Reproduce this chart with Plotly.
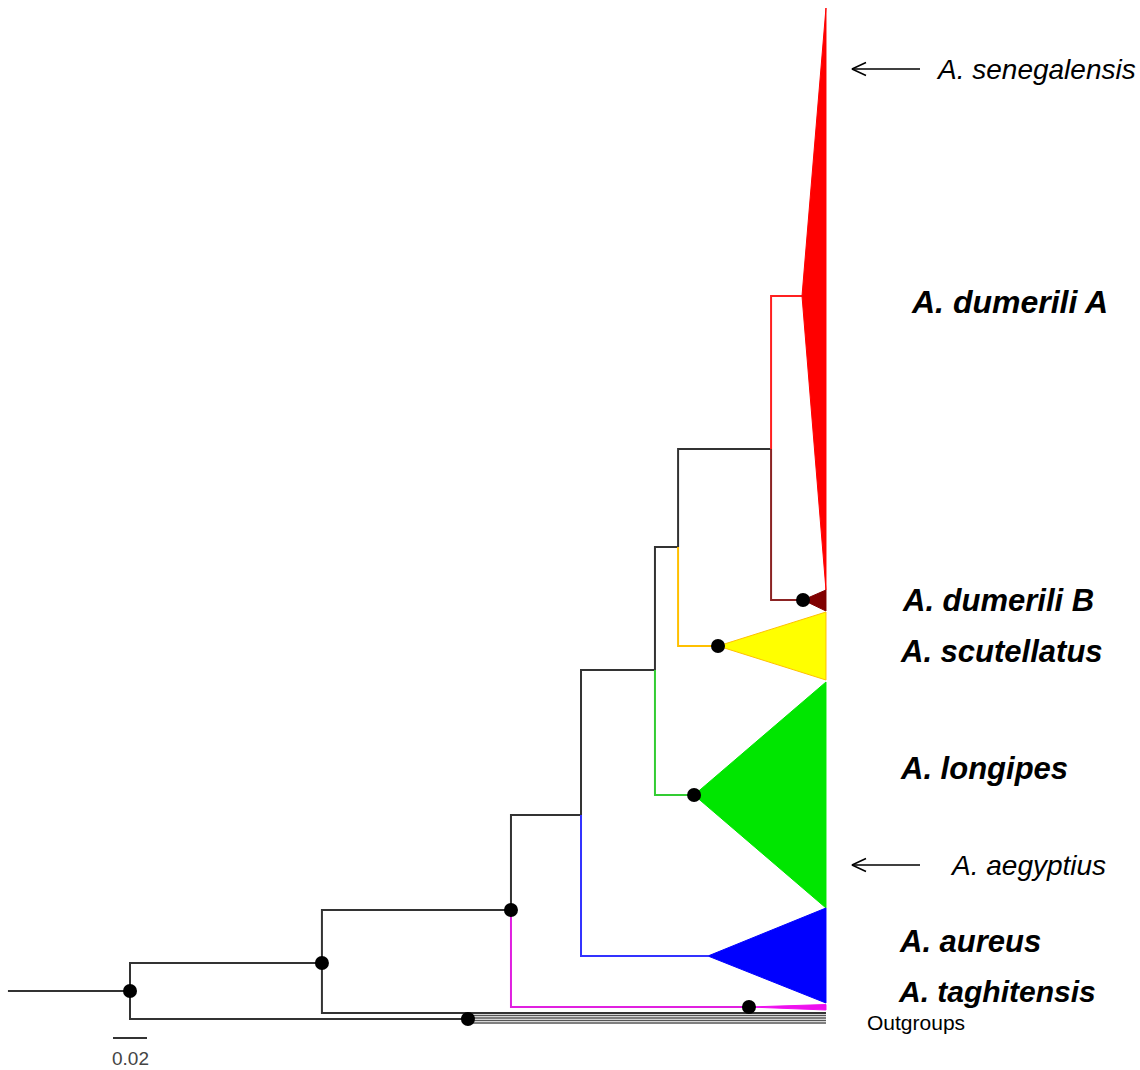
import plotly.graph_objects as go

# ---------------- data: tree topology, branch depths (subst./site), vertical positions ----------
node_names  = ["root", "n1", "n2", "n3", "n4", "n5", "n6",
               "cA", "cB", "cScut", "cLong", "cAur", "cTag",
               "og0", "ogN", "og1", "og2", "og3", "og4"]
node_parent = [None, "root", "n1", "n2", "n3", "n4", "n5",
               "n6", "n6", "n5", "n4", "n3", "n2",
               "n1", "root", "ogN", "ogN", "ogN", "ogN"]
node_depth  = [0.0, 0.1129, 0.2241, 0.2653, 0.3088, 0.3224, 0.3771,
               0.3953, 0.3959, 0.3459, 0.3318, 0.3400, 0.3641,
               0.4094, 0.1988, 0.4094, 0.4094, 0.4094, 0.4094]
node_pos    = [991, 963, 910, 815, 670, 547, 449,
               296, 600, 646, 795, 956, 1007,
               1013, 1019, 1015.5, 1018, 1020.5, 1023]
supported   = ["root", "n1", "n2", "ogN", "cTag", "cLong", "cScut", "cB"]
root_stem_depth = -0.0718

# collapsed clades: apex node, tip depth, top & bottom of tip span
clade_nodes  = ["cA", "cB", "cScut", "cLong", "cAur", "cTag"]
clade_tip    = [0.4094, 0.4094, 0.4094, 0.4094, 0.4094, 0.4094]
clade_top    = [8, 590, 612, 682, 908, 1004.5]
clade_bottom = [590, 611, 680, 908, 1003, 1010]
clade_labels = ["A. dumerili A", "A. dumerili B", "A. scutellatus", "A. longipes",
                "A. aureus", "A. taghitensis"]
label_pos    = [302, 600, 651, 768, 941, 991]

pointer_labels = ["A. senegalensis", "A. aegyptius"]
pointer_pos    = [69, 865]
scale_length = 0.02

# ---------------- styles ----------------
branch_color = {"cA": "#FF2020", "cB": "#8B2323", "cScut": "#FFC000", "cLong": "#33CC33",
                "cAur": "#3333FF", "cTag": "#E020E0",
                "og1": "#555555", "og2": "#555555", "og3": "#555555", "og4": "#555555"}
fill_color = {"cA": "#FF0000", "cB": "#800000", "cScut": "#FFFF00", "cLong": "#00E600",
              "cAur": "#0000FF", "cTag": "#EE10EE"}
edge_color = {"cA": "#FF0000", "cB": "#800000", "cScut": "#FFC000", "cLong": "#00E600",
              "cAur": "#0000FF", "cTag": "#EE10EE"}
default_color = "#333333"
FONT = "Liberation Sans, Arial, sans-serif"
label_left = [909, 900, 898, 898, 897, 896]
label_size = [32, 31, 31, 31, 31, 30]

PX_PER_UNIT = 1700.0
ROOT_PX = 130.0
W, H = 1140, 1070
def px2x(px):
    return (px - ROOT_PX) / PX_PER_UNIT

idx = {n: i for i, n in enumerate(node_names)}
fig = go.Figure()

# root stem
fig.add_trace(go.Scatter(x=[root_stem_depth, node_depth[0]], y=[node_pos[0], node_pos[0]],
                         mode="lines", line=dict(color=default_color, width=2),
                         hoverinfo="skip", showlegend=False))

# branches (rectangular cladogram)
for i, n in enumerate(node_names):
    p = node_parent[i]
    if p is None:
        continue
    j = idx[p]
    col = branch_color.get(n, default_color)
    w = 1.5 if n in ("og1", "og2", "og3", "og4") else 2
    fig.add_trace(go.Scatter(
        x=[node_depth[j], node_depth[j], node_depth[i]],
        y=[node_pos[j], node_pos[i], node_pos[i]],
        mode="lines", line=dict(color=col, width=w),
        hoverinfo="skip", showlegend=False))

# collapsed clade triangles
for k, n in enumerate(clade_nodes):
    i = idx[n]
    fig.add_trace(go.Scatter(
        x=[node_depth[i], clade_tip[k], clade_tip[k], node_depth[i]],
        y=[node_pos[i], clade_top[k], clade_bottom[k], node_pos[i]],
        mode="lines", fill="toself", fillcolor=fill_color[n],
        line=dict(color=edge_color[n], width=1),
        hoverinfo="skip", showlegend=False))

# support dots
fig.add_trace(go.Scatter(
    x=[node_depth[idx[n]] for n in supported],
    y=[node_pos[idx[n]] for n in supported],
    mode="markers", marker=dict(color="black", size=14),
    hoverinfo="skip", showlegend=False))

# clade labels
for lab, y, xl, fs in zip(clade_labels, label_pos, label_left, label_size):
    fig.add_annotation(x=px2x(xl), y=y, xref="x", yref="y", text=f"<b><i>{lab}</i></b>",
                       showarrow=False, xanchor="left", yanchor="middle",
                       font=dict(family=FONT, size=fs, color="black"))
fig.add_annotation(x=px2x(865), y=1022, xref="x", yref="y", text="Outgroups",
                   showarrow=False, xanchor="left", yanchor="middle",
                   font=dict(family=FONT, size=21, color="black"))

# pointer arrows
text_left = [934, 948]
for lab, y, tl in zip(pointer_labels, pointer_pos, text_left):
    fig.add_trace(go.Scatter(
        x=[px2x(920), px2x(852), None, px2x(866), px2x(852), px2x(866)],
        y=[y, y, None, y - 6.5, y, y + 6.5],
        mode="lines", line=dict(color="black", width=1.5),
        hoverinfo="skip", showlegend=False))
    fig.add_annotation(x=px2x(tl), y=y, xref="x", yref="y", text=f"<i>{lab}</i>",
                       showarrow=False, xanchor="left", yanchor="middle",
                       font=dict(family=FONT, size=28, color="black"))

# scale bar
fig.add_trace(go.Scatter(x=[-scale_length / 2, scale_length / 2], y=[1038, 1038],
                         mode="lines", line=dict(color="#333333", width=2),
                         hoverinfo="skip", showlegend=False))
fig.add_annotation(x=0, y=1058, xref="x", yref="y", text=f"{scale_length}",
                   showarrow=False, xanchor="center", yanchor="middle",
                   font=dict(family=FONT, size=19, color="#444444"))

fig.update_layout(
    width=W, height=H, margin=dict(l=0, r=0, t=0, b=0),
    plot_bgcolor="white", paper_bgcolor="white",
    xaxis=dict(range=[px2x(0), px2x(W)], visible=False, fixedrange=True),
    yaxis=dict(range=[H, 0], visible=False, fixedrange=True),
    showlegend=False,
)
fig.write_html("out.html", config={"displayModeBar": False},
               post_script="document.body.style.margin='0';")
